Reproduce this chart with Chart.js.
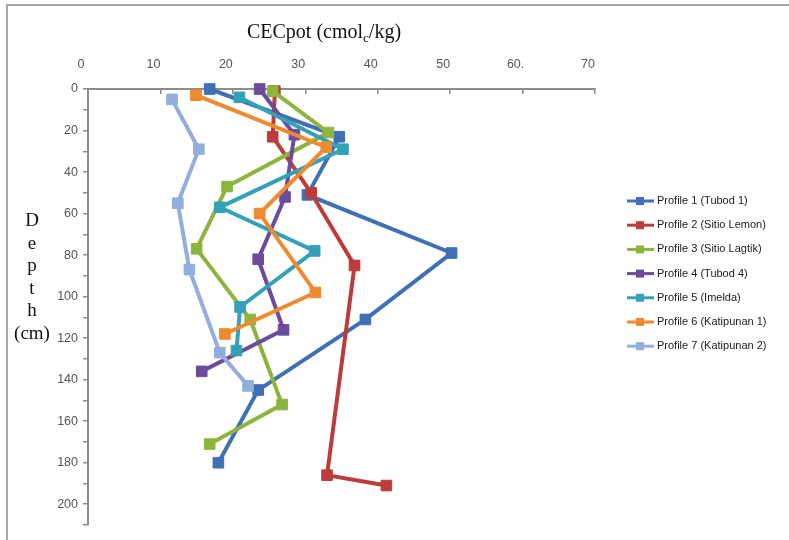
<!DOCTYPE html>
<html>
<head>
<meta charset="utf-8">
<script src="https://cdn.jsdelivr.net/npm/chart.js@4.4.1/dist/chart.umd.min.js"></script>
<style>
  html, body { margin: 0; padding: 0; background: #ffffff; }
  #wrap { position: relative; width: 789px; height: 540px; }
</style>
</head>
<body>
<div id="wrap"><canvas id="c" width="789" height="540"></canvas></div>
<script>
// ---- data ----
const seriesNames = [
  'Profile 1 (Tubod 1)',
  'Profile 2 (Sitio Lemon)',
  'Profile 3 (Sitio Lagtik)',
  'Profile 4 (Tubod 4)',
  'Profile 5 (Imelda)',
  'Profile 6 (Katipunan 1)',
  'Profile 7 (Katipunan 2)'
];
const p1Depth = [0, 23, 51, 79, 111, 145, 180];
const p1Cec   = [16.8, 34.7, 30.3, 50.2, 38.3, 23.5, 18.0];
const p2Depth = [1, 23, 50, 85, 186, 191];
const p2Cec   = [25.8, 25.5, 30.8, 36.8, 33.0, 41.2];
const p3Depth = [1, 21, 47, 77, 111, 152, 171];
const p3Cec   = [25.5, 33.2, 19.2, 15.0, 22.4, 26.8, 16.8];
const p4Depth = [0, 22, 52, 82, 116, 136];
const p4Cec   = [23.7, 28.5, 27.2, 23.5, 27.0, 15.7];
const p5Depth = [4, 29, 57, 78, 105, 126];
const p5Cec   = [20.9, 35.2, 18.2, 31.3, 21.0, 20.5];
const p6Depth = [3, 28, 60, 98, 118];
const p6Cec   = [14.9, 32.9, 23.7, 31.4, 18.9];
const p7Depth = [5, 29, 55, 87, 127, 143];
const p7Cec   = [11.6, 15.3, 12.4, 14.0, 18.2, 22.1];
const xTickLabels = ['0', '10', '20', '30', '40', '50', '60.', '70'];
const titleParts = ['CECpot (cmol', 'c', '/kg)'];
const depthLabel = ['D', 'e', 'p', 't', 'h', '(cm)'];

const depths = [p1Depth, p2Depth, p3Depth, p4Depth, p5Depth, p6Depth, p7Depth];
const cecs = [p1Cec, p2Cec, p3Cec, p4Cec, p5Cec, p6Cec, p7Cec];
const colors = ['#3f6fb5', '#bd3b3b', '#8db53e', '#6b4c9c', '#34a1b8', '#ef8a2f', '#93aedc'];

const datasets = seriesNames.map((name, i) => ({
  label: name,
  data: cecs[i].map((v, j) => ({ x: v, y: depths[i][j] })),
  showLine: true,
  clip: false,
  borderColor: colors[i],
  backgroundColor: colors[i],
  borderWidth: 4,
  pointStyle: 'rect',
  pointRadius: 7.5,
  pointBorderWidth: 1,
  pointBorderColor: colors[i],
  pointBackgroundColor: colors[i],
  tension: 0,
  order: seriesNames.length - i
}));

const decorPlugin = {
  id: 'decor',
  beforeDraw(chart) {
    const ctx = chart.ctx;
    ctx.save();
    ctx.fillStyle = '#ffffff';
    ctx.fillRect(0, 0, chart.width, chart.height);
    ctx.strokeStyle = '#a6a6a6';
    ctx.lineWidth = 2;
    ctx.beginPath();
    ctx.moveTo(7, 540);
    ctx.lineTo(7, 5);
    ctx.lineTo(789, 5);
    ctx.stroke();
    ctx.restore();
  },
  afterDraw(chart) {
    const ctx = chart.ctx;
    ctx.save();
    // title with subscript
    ctx.fillStyle = '#111111';
    ctx.textBaseline = 'alphabetic';
    ctx.textAlign = 'left';
    const big = '20px "Liberation Serif"';
    const small = '13px "Liberation Serif"';
    ctx.font = big; const w0 = ctx.measureText(titleParts[0]).width;
    ctx.font = small; const w1 = ctx.measureText(titleParts[1]).width;
    ctx.font = big; const w2 = ctx.measureText(titleParts[2]).width;
    let tx = 324 - (w0 + w1 + w2) / 2;
    const ty = 38;
    ctx.font = big; ctx.fillText(titleParts[0], tx, ty); tx += w0;
    ctx.font = small; ctx.fillText(titleParts[1], tx, ty + 4); tx += w1;
    ctx.font = big; ctx.fillText(titleParts[2], tx, ty);
    // depth label stacked
    ctx.font = '19px "Liberation Serif"';
    ctx.textAlign = 'center';
    depthLabel.forEach((s, i) => ctx.fillText(s, 32, 226 + i * 22.6));
    // legend
    ctx.font = '11px "Liberation Sans"';
    ctx.textAlign = 'left';
    ctx.textBaseline = 'middle';
    seriesNames.forEach((name, i) => {
      const y = 201 + i * 24.2;
      ctx.strokeStyle = colors[i];
      ctx.lineWidth = 3;
      ctx.beginPath();
      ctx.moveTo(627, y);
      ctx.lineTo(654, y);
      ctx.stroke();
      ctx.fillStyle = colors[i];
      ctx.fillRect(636, y - 4, 8, 8);
      ctx.fillStyle = '#1a1a1a';
      ctx.fillText(name, 657, y);
    });
    ctx.restore();
  }
};

new Chart(document.getElementById('c'), {
  type: 'scatter',
  data: { datasets },
  options: {
    responsive: false,
    animation: false,
    devicePixelRatio: 1,
    layout: { padding: { left: 0, top: 0, right: 194, bottom: 15 } },
    plugins: {
      legend: { display: false },
      tooltip: { enabled: false },
      title: { display: false }
    },
    scales: {
      x: {
        type: 'linear',
        position: 'top',
        min: 0,
        max: 70,
        ticks: {
          stepSize: 10,
          padding: 22,
          labelOffset: -7,
          color: '#555555',
          font: { family: '"Liberation Sans"', size: 12.5 },
          callback: (v, i) => xTickLabels[i] !== undefined ? xTickLabels[i] : ''
        },
        grid: { display: true, drawOnChartArea: false, drawTicks: true, tickLength: -5, color: '#8c8c8c', lineWidth: 1.5 },
        border: { display: true, color: '#8c8c8c', width: 2 },
        afterFit(scale) { scale.height = 89; }
      },
      y: {
        type: 'linear',
        position: 'left',
        reverse: true,
        min: 0,
        max: 210,
        ticks: {
          stepSize: 10,
          padding: 5,
          color: '#555555',
          font: { family: '"Liberation Sans"', size: 12.5 },
          callback: (v) => (v % 20 === 0 ? String(v) : '')
        },
        grid: { display: true, drawOnChartArea: false, drawTicks: true, tickLength: 5, color: '#8c8c8c', lineWidth: 1.5 },
        border: { display: true, color: '#8c8c8c', width: 2 },
        afterFit(scale) { scale.width = 88; }
      }
    }
  },
  plugins: [decorPlugin]
});
</script>
</body>
</html>
